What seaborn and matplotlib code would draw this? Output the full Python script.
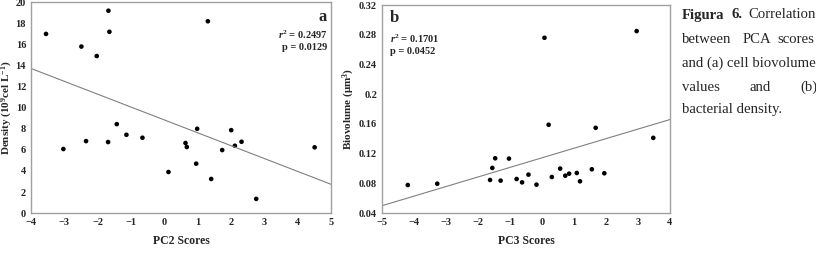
import matplotlib
matplotlib.use("Agg")
import matplotlib.pyplot as plt
import numpy as np
import pandas as pd
import seaborn as sns
from matplotlib.ticker import FormatStrFormatter

# Panel a: PC2 scores vs bacterial density
pc2_scores = [-3.55, -3.03, -2.49, -2.35, -2.03, -1.68, -1.65, -1.69, -1.43, -1.14, -0.66, 0.12,
              0.63, 0.67, 0.98, 0.95, 1.30, 1.40, 1.73, 2.00, 2.11, 2.31, 2.75, 4.50]
density = [17.0, 6.08, 15.8, 6.83, 14.9, 19.2, 17.2, 6.74, 8.44, 7.43, 7.15, 3.9,
           6.65, 6.27, 8.0, 4.69, 18.2, 3.24, 5.98, 7.87, 6.39, 6.77, 1.35, 6.24]

# Panel b: PC3 scores vs biovolume
pc3_scores = [-4.19, -3.27, -1.62, -1.55, -1.46, -1.29, -1.03, -0.79, -0.62, -0.42, -0.17, 0.08,
              0.21, 0.31, 0.57, 0.73, 0.85, 1.09, 1.19, 1.56, 1.68, 1.95, 2.96, 3.48]
biovolume = [0.0778, 0.0796, 0.0846, 0.1008, 0.1138, 0.0837, 0.1134, 0.0859, 0.0814, 0.0918, 0.0783, 0.276,
             0.1589, 0.0886, 0.0999, 0.0904, 0.0931, 0.094, 0.0828, 0.099, 0.1548, 0.0936, 0.285, 0.1413]

stats_a = ["0.2497", "0.0129"]
stats_b = ["0.1701", "0.0452"]

df_a = pd.DataFrame({"PC2": pc2_scores, "Density": density})
df_b = pd.DataFrame({"PC3": pc3_scores, "Biovolume": biovolume})

sns.set_style("white")
plt.rcParams["font.family"] = ["Liberation Serif", "DejaVu Serif"]
plt.rcParams["mathtext.fontset"] = "custom"
plt.rcParams["mathtext.rm"] = "Liberation Serif:bold"
plt.rcParams["mathtext.it"] = "Liberation Serif:italic:bold"
plt.rcParams["mathtext.bf"] = "Liberation Serif:bold"

fig = plt.figure(figsize=(8.16, 2.54), dpi=100)
ax_a = fig.add_axes([0.038, 0.161, 0.368, 0.830])
ax_b = fig.add_axes([0.468, 0.161, 0.353, 0.819])

frame_col = "#a0a0a0"
scatter_kws = {"s": 11, "color": "black", "edgecolor": "none", "alpha": 1}
line_kws = {"color": "#808080", "linewidth": 0.8}


def style_axis(ax, xlim, ylim, xticks, yticks, xlabel, ylabel, label_x, yfmt=None):
    ax.set_xlim(*xlim)
    ax.set_ylim(*ylim)
    ax.set_xticks(xticks)
    ax.set_yticks(yticks)
    if yfmt:
        ax.yaxis.set_major_formatter(FormatStrFormatter(yfmt))
    ax.tick_params(axis="both", labelsize=7.5, length=2, width=0.6, color=frame_col, pad=1.5)
    for lbl in ax.get_xticklabels() + ax.get_yticklabels():
        lbl.set_fontweight("bold")
    for sp in ax.spines.values():
        sp.set_color(frame_col)
        sp.set_linewidth(1.0)
    ax.set_xlabel(xlabel, fontsize=8.5, fontweight="bold", labelpad=6)
    ax.set_ylabel(ylabel, fontsize=8, fontweight="bold")
    ax.yaxis.set_label_coords(label_x, 0.5)


# Panel a
ax_a.set_xlim(-4, 5)
sns.regplot(data=df_a, x="PC2", y="Density", ax=ax_a, ci=None, truncate=False,
            scatter_kws=scatter_kws, line_kws=line_kws)
style_axis(ax_a, (-4, 5), (0, 20), range(-4, 6), range(0, 21, 2),
           "PC2 Scores", r"Density (10$^\mathbf{9}$cel L$^\mathbf{-1}$)", -0.053)
ax_a.text(0.985, 0.929, "a", transform=ax_a.transAxes, ha="right", va="center",
          fontsize=12, fontweight="bold")
ax_a.text(0.987, 0.848, r"$r^2$ = " + stats_a[0], transform=ax_a.transAxes, ha="right",
          va="center", fontsize=7.5, fontweight="bold")
ax_a.text(0.987, 0.787, "p = " + stats_a[1], transform=ax_a.transAxes, ha="right",
          va="center", fontsize=7.5, fontweight="bold")

# Panel b
ax_b.set_xlim(-5, 4)
sns.regplot(data=df_b, x="PC3", y="Biovolume", ax=ax_b, ci=None, truncate=False,
            scatter_kws=scatter_kws, line_kws=line_kws)
style_axis(ax_b, (-5, 4), (0.04, 0.32), range(-5, 5), np.arange(0.04, 0.33, 0.04),
           "PC3 Scores", r"Biovolume ($\mathbf{\mu}$m$^\mathbf{3}$)", -0.085, yfmt="%g")
ax_b.text(0.027, 0.9375, "b", transform=ax_b.transAxes, ha="left", va="center",
          fontsize=12, fontweight="bold")
ax_b.text(0.029, 0.837, r"$r^2$ = " + stats_b[0], transform=ax_b.transAxes, ha="left",
          va="center", fontsize=7.5, fontweight="bold")
ax_b.text(0.029, 0.779, "p = " + stats_b[1], transform=ax_b.transAxes, ha="left",
          va="center", fontsize=7.5, fontweight="bold")

# Caption (justified lines placed word by word)
cap_size = 10.6
cap_x = 682 / 816
lines_y = [1 - 15 / 254, 1 - 40 / 254, 1 - 63 / 254, 1 - 87 / 254, 1 - 110 / 254]
fig.text(cap_x, lines_y[0], "Figura", fontsize=cap_size, fontweight="bold", va="center")
fig.text(731.5 / 816, lines_y[0], "6.", fontsize=cap_size, fontweight="bold", va="center")
fig.text(748 / 816, lines_y[0], "Correlation", fontsize=cap_size, va="center")
fig.text(cap_x, lines_y[1], "between", fontsize=cap_size, va="center")
fig.text(743 / 816, lines_y[1], "PCA", fontsize=cap_size, va="center")
fig.text(777 / 816, lines_y[1], "scores", fontsize=cap_size, va="center")
fig.text(cap_x, lines_y[2], "and (a) cell biovolume", fontsize=cap_size, va="center")
fig.text(cap_x, lines_y[3], "values", fontsize=cap_size, va="center")
fig.text(750 / 816, lines_y[3], "and", fontsize=cap_size, va="center")
fig.text(800 / 816, lines_y[3], "(b)", fontsize=cap_size, va="center")
fig.text(cap_x, lines_y[4], "bacterial density.", fontsize=cap_size, va="center")

fig.savefig("out.png", dpi=100)
